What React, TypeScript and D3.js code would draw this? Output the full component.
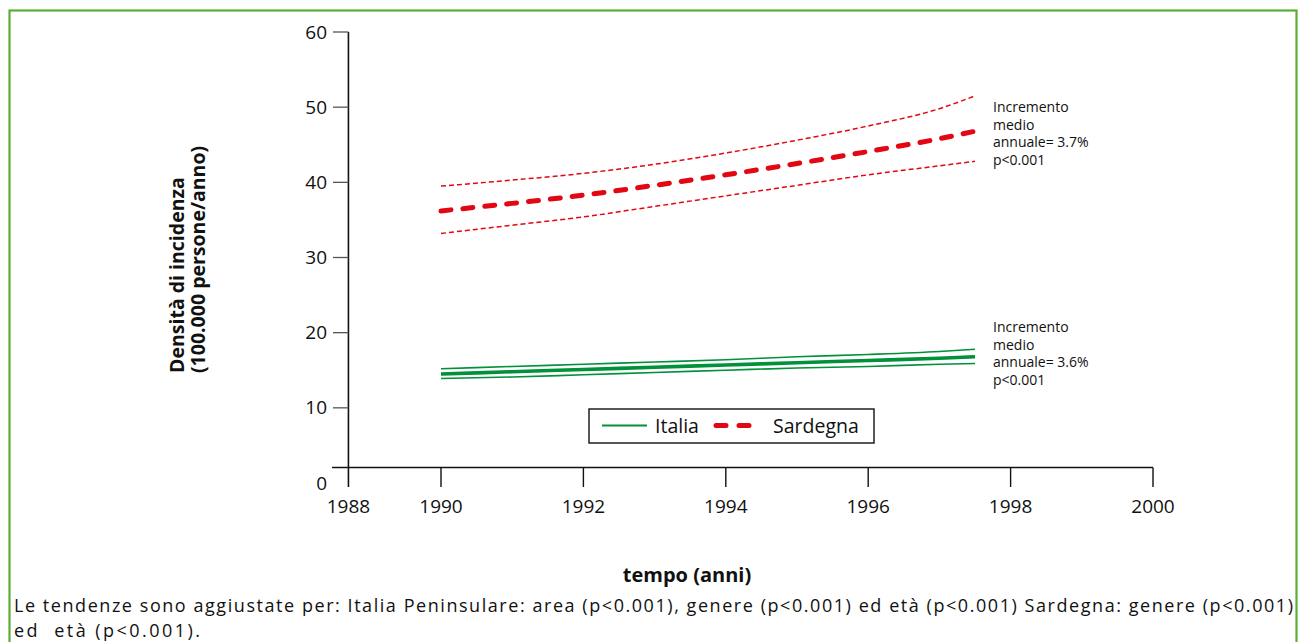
import React from "react";
import * as d3 from "d3";

const years = [1990, 1991, 1992, 1993, 1994, 1995, 1996, 1997, 1997.5];
const sardegnaMid = [36.2, 37.2, 38.3, 39.6, 41.0, 42.5, 44.1, 45.8, 46.8];
const sardegnaHigh = [39.5, 40.3, 41.2, 42.4, 43.9, 45.6, 47.5, 49.8, 51.5];
const sardegnaLow = [33.2, 34.3, 35.4, 36.8, 38.2, 39.6, 41.0, 42.2, 42.8];
const italiaMid = [14.5, 14.8, 15.1, 15.4, 15.7, 16.0, 16.3, 16.6, 16.8];
const italiaHigh = [15.2, 15.5, 15.8, 16.1, 16.4, 16.8, 17.1, 17.5, 17.8];
const italiaLow = [13.9, 14.1, 14.4, 14.7, 15.0, 15.3, 15.5, 15.8, 15.9];

const xTickValues = [1988.7, 1990, 1992, 1994, 1996, 1998, 2000];
const xTickLabels = ["1988", "1990", "1992", "1994", "1996", "1998", "2000"];
const yTickValues = [0, 10, 20, 30, 40, 50, 60];

const sardNote = ["Incremento", "medio", "annuale= 3.7%", "p<0.001"];
const italNote = ["Incremento", "medio", "annuale= 3.6%", "p<0.001"];
const footer = [
  "Le tendenze sono aggiustate per: Italia Peninsulare: area (p<0.001), genere (p<0.001) ed età (p<0.001) Sardegna: genere (p<0.001)",
  "ed  età (p<0.001).",
];

const RED = "#e30613";
const GREEN = "#00913a";
const FONT = "'Open Sans', 'Noto Sans', sans-serif";

export default function App() {
  const x = d3.scaleLinear().domain([1990, 2000]).range([441, 1153]);
  const y = d3.scaleLinear().domain([0, 60]).range([483, 32]);
  const axisX = x(1988.7);
  const axisY = y(2.07);

  const mk = (vals: number[]) =>
    d3
      .line<number>()
      .x((_, i) => x(years[i]))
      .y((v) => y(v))
      .curve(d3.curveMonotoneX)(vals) as string;

  const lastX = x(years[years.length - 1]);

  return (
    <svg
      width={1301}
      height={642}
      style={{ position: "absolute", left: 0, top: 0, fontFamily: FONT }}
    >
      <rect x={0} y={0} width={1301} height={642} fill="#fff" />
      <rect x={9.5} y={10.5} width={1287} height={640} fill="none" stroke="#5aad35" strokeWidth={2.2} />

      {/* Y axis */}
      <line x1={axisX} x2={axisX} y1={y(60)} y2={487} stroke="#111" strokeWidth={1.6} />
      {yTickValues.map((v) => (
        <g key={v}>
          {v > 0 && (
            <line x1={333} x2={axisX} y1={y(v)} y2={y(v)} stroke="#555" strokeWidth={1.3} />
          )}
          <text x={327} y={y(v)} dy="0.35em" textAnchor="end" fontSize={19} fill="#111">
            {v}
          </text>
        </g>
      ))}

      {/* X axis */}
      <line x1={332} x2={x(2000)} y1={axisY} y2={axisY} stroke="#111" strokeWidth={1.6} />
      {xTickValues.map((v, i) => (
        <g key={v}>
          {i > 0 && (
            <line x1={x(v)} x2={x(v)} y1={axisY} y2={487} stroke="#111" strokeWidth={1.4} />
          )}
          <text x={x(v)} y={513} textAnchor="middle" fontSize={19} fill="#111">
            {xTickLabels[i]}
          </text>
        </g>
      ))}

      {/* Sardegna */}
      <path d={mk(sardegnaHigh)} fill="none" stroke={RED} strokeWidth={1.5} strokeDasharray="5 3" />
      <path d={mk(sardegnaLow)} fill="none" stroke={RED} strokeWidth={1.5} strokeDasharray="5 3" />
      <path
        d={mk(sardegnaMid)}
        fill="none"
        stroke={RED}
        strokeWidth={5}
        strokeDasharray="10 12"
        strokeLinecap="round"
      />

      {/* Italia */}
      <path d={mk(italiaHigh)} fill="none" stroke={GREEN} strokeWidth={1.6} />
      <path d={mk(italiaLow)} fill="none" stroke={GREEN} strokeWidth={1.6} />
      <path d={mk(italiaMid)} fill="none" stroke={GREEN} strokeWidth={3.6} />

      {/* Notes */}
      {sardNote.map((t, i) => (
        <text key={"s" + i} x={lastX + 18} y={112 + i * 17.7} fontSize={14} fill="#111">
          {t}
        </text>
      ))}
      {italNote.map((t, i) => (
        <text key={"i" + i} x={lastX + 18} y={332 + i * 17.7} fontSize={14} fill="#111">
          {t}
        </text>
      ))}

      {/* Legend */}
      <rect x={589} y={409} width={285} height={34} fill="#fff" stroke="#111" strokeWidth={1.4} />
      <line x1={602} x2={647} y1={425.5} y2={425.5} stroke={GREEN} strokeWidth={2} />
      <text x={655} y={426} dy="0.35em" fontSize={19.5} fill="#111">Italia</text>
      <line
        x1={716}
        x2={752}
        y1={425.5}
        y2={425.5}
        stroke={RED}
        strokeWidth={5}
        strokeDasharray="10 13"
        strokeLinecap="round"
      />
      <text x={773} y={426} dy="0.35em" fontSize={19.5} fill="#111">Sardegna</text>

      {/* Axis titles */}
      <text
        transform="translate(184,373) rotate(-90)"
        fontSize={19.5}
        fontWeight="bold"
        fill="#111"
      >
        Densità di incidenza
      </text>
      <text
        transform="translate(205,373) rotate(-90)"
        fontSize={19.5}
        fontWeight="bold"
        fill="#111"
      >
        (100.000 persone/anno)
      </text>
      <text x={687} y={582} textAnchor="middle" fontSize={20} fontWeight="bold" fill="#111">
        tempo (anni)
      </text>

      {/* Footer */}
      <text x={14} y={612} fontSize={18} fill="#111" textLength={1279} lengthAdjust="spacing">
        {footer[0]}
      </text>
      <text x={14} y={637} fontSize={18} fill="#111" style={{ whiteSpace: "pre" }} textLength={186} lengthAdjust="spacing">
        {footer[1]}
      </text>
    </svg>
  );
}
